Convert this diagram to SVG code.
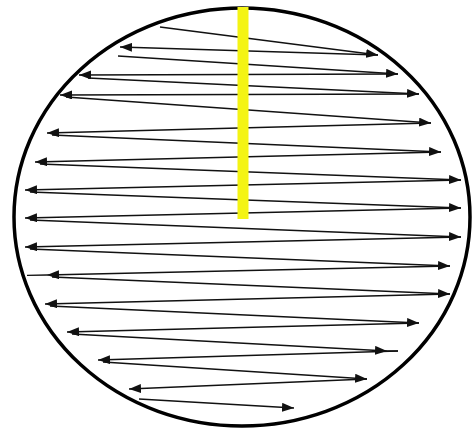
<svg xmlns="http://www.w3.org/2000/svg" width="476" height="431" viewBox="0 0 476 431">
<style>
.c{stroke:#111;stroke-width:1.4;fill:none}
.a{marker-end:url(#ah)}
</style>
<defs>
<marker id="ah" markerUnits="userSpaceOnUse" markerWidth="12" markerHeight="9" refX="12" refY="4.5" orient="auto">
<path d="M0,0 L12,4.5 L0,9 z" fill="#111"/>
</marker>
</defs>
<rect width="476" height="431" fill="#fff"/>
<g id="circle">
<ellipse cx="242" cy="217" rx="228" ry="209" fill="none" stroke="#000" stroke-width="3.5"/>
</g>
<g id="connectors">
<line class="c a" x1="160" y1="27" x2="378" y2="55"/>
<line class="c a" x1="378" y1="55" x2="120" y2="47"/>
<line class="c a" x1="118" y1="56" x2="398" y2="74"/>
<line class="c a" x1="398" y1="74" x2="79" y2="75"/>
<line class="c a" x1="88" y1="78" x2="419" y2="94"/>
<line class="c a" x1="419" y1="94" x2="60" y2="95"/>
<line class="c a" x1="66" y1="97" x2="431" y2="123"/>
<line class="c a" x1="431" y1="123" x2="47" y2="133"/>
<line class="c a" x1="52" y1="135" x2="441" y2="152"/>
<line class="c a" x1="441" y1="152" x2="35" y2="162"/>
<line class="c a" x1="40" y1="164" x2="461" y2="180"/>
<line class="c a" x1="461" y1="180" x2="25" y2="190"/>
<line class="c a" x1="30" y1="192" x2="461" y2="208"/>
<line class="c a" x1="461" y1="208" x2="25" y2="218"/>
<line class="c a" x1="30" y1="220" x2="461" y2="237"/>
<line class="c a" x1="461" y1="237" x2="25" y2="247"/>
<line class="c a" x1="30" y1="249" x2="450" y2="266"/>
<line class="c a" x1="450" y1="266" x2="47" y2="275"/>
<line class="c" x1="47" y1="275" x2="27" y2="275.4"/>
<line class="c a" x1="52" y1="277" x2="450" y2="294"/>
<line class="c a" x1="450" y1="294" x2="45" y2="304"/>
<line class="c a" x1="50" y1="306" x2="419" y2="323"/>
<line class="c a" x1="419" y1="323" x2="67" y2="332"/>
<line class="c a" x1="72" y1="334" x2="387" y2="351"/>
<line class="c" x1="387" y1="351" x2="398" y2="351"/>
<line class="c a" x1="398" y1="351" x2="98" y2="360"/>
<line class="c a" x1="103" y1="362" x2="367" y2="379"/>
<line class="c a" x1="367" y1="379" x2="129" y2="389"/>
<line class="c a" x1="139" y1="399" x2="294" y2="408"/>
</g>
<g id="bar">
<rect x="237.5" y="7" width="11" height="212" fill="#f4f414"/>
</g>
</svg>
